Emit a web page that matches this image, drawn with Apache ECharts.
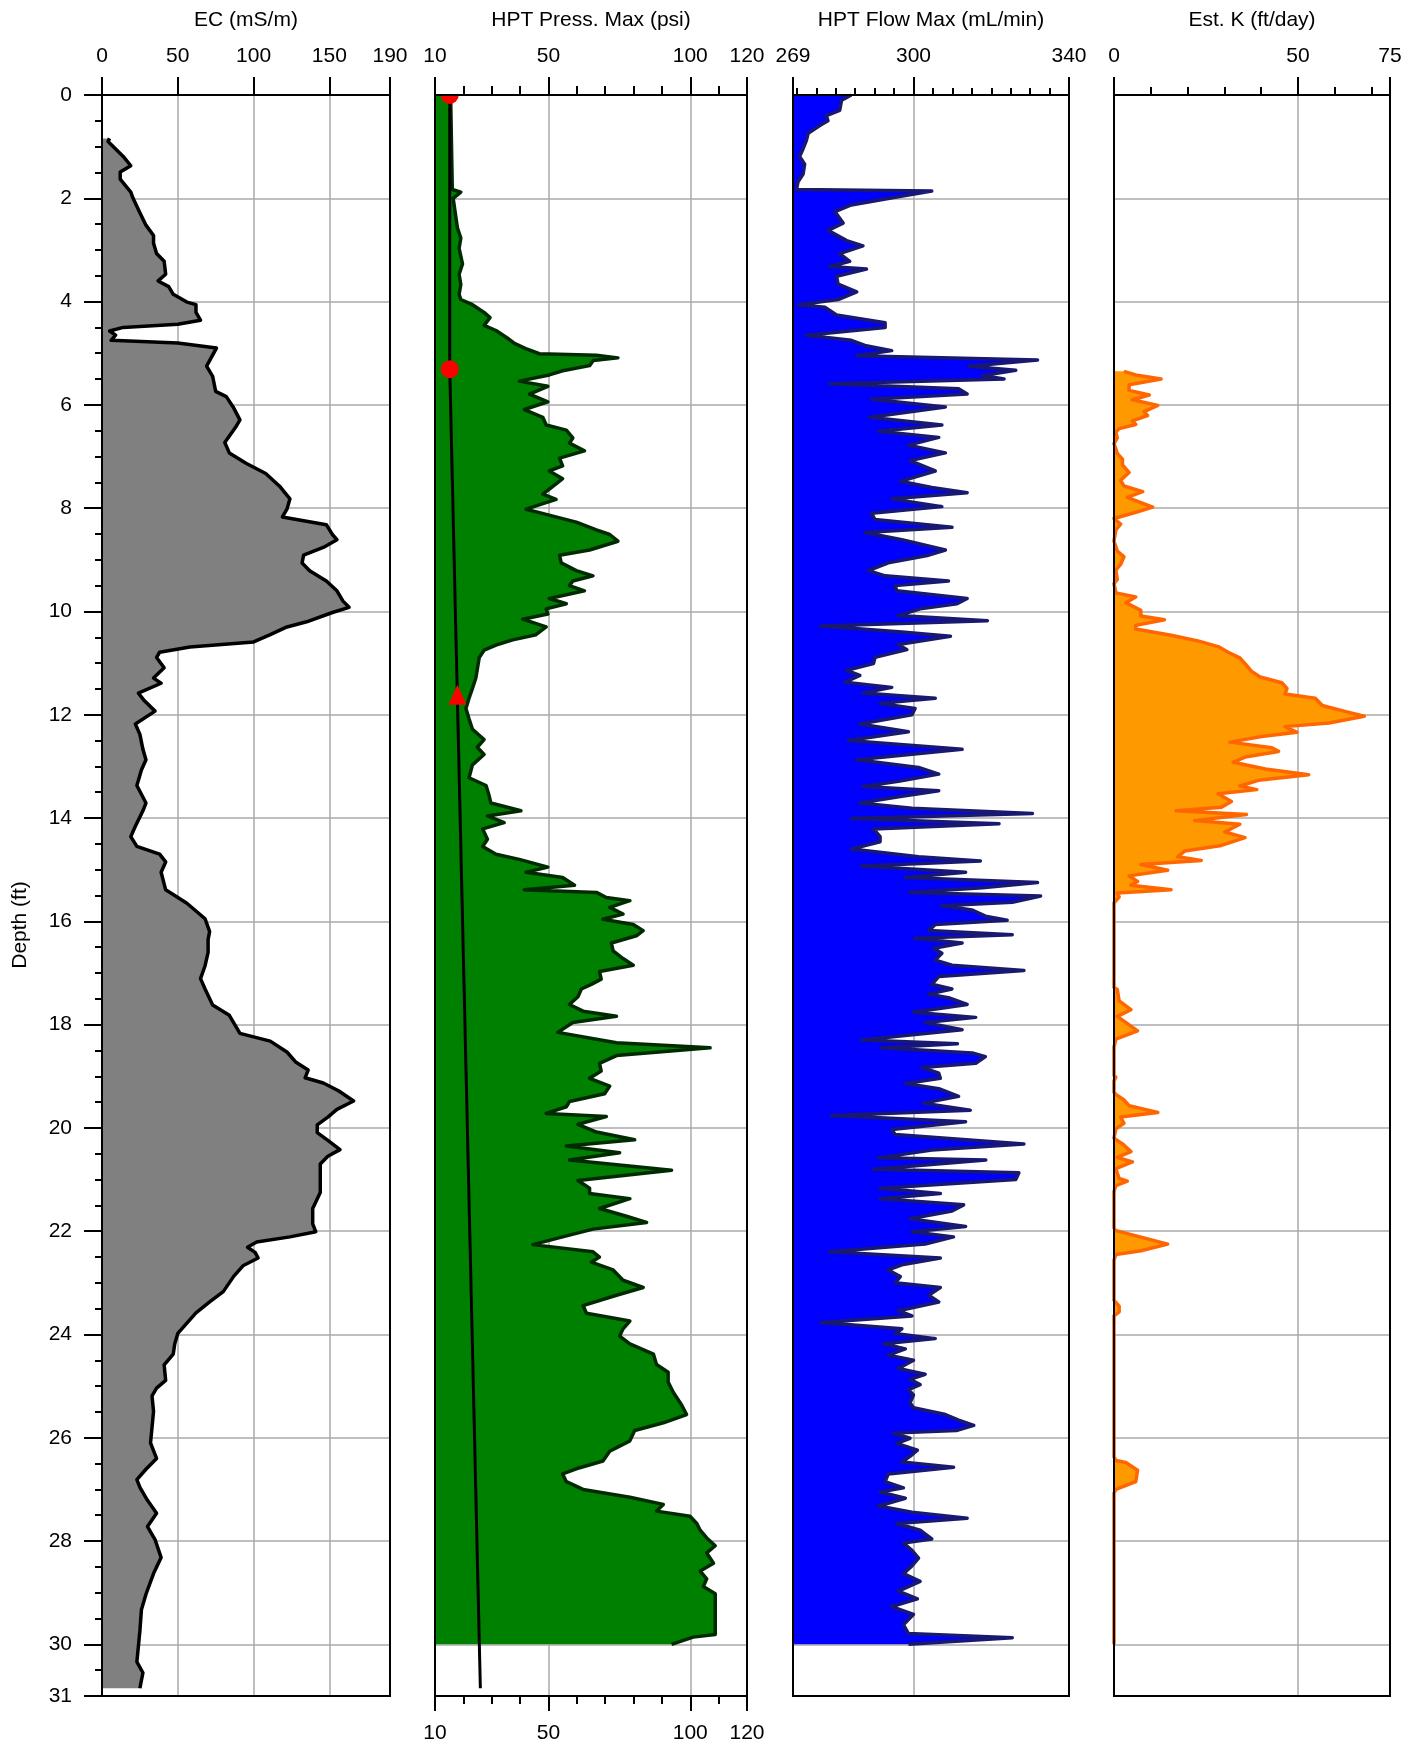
<!DOCTYPE html>
<html lang="en">
<head>
<meta charset="UTF-8">
<title>HPT log</title>
<script src="https://cdn.jsdelivr.net/npm/echarts@6/dist/echarts.min.js"></script>
<style>
  html, body { margin: 0; padding: 0; background: #fff; }
  #chart { width: 1421px; height: 1748px; }
</style>
</head>
<body>
<div id="chart"></div>
<script>
// every profile is a list of [depth (ft), value]
const ecProfile = [
  [0.84, 5], [0.9, 4], [1.19, 14], [1.37, 19], [1.49, 12], [1.63, 12], [1.88, 19], [2.0, 20.5],
  [2.28, 25], [2.52, 29], [2.72, 34], [2.87, 34], [3.07, 36], [3.22, 41], [3.47, 42], [3.6, 37],
  [3.71, 44], [3.86, 47], [4.01, 56], [4.06, 62], [4.21, 62], [4.36, 65], [4.44, 50], [4.5, 14],
  [4.57, 5], [4.65, 9], [4.75, 6], [4.8, 50], [4.9, 75.5], [5.25, 69], [5.45, 73], [5.74, 75],
  [5.84, 82], [6.04, 86.5], [6.29, 91], [6.44, 88], [6.73, 81], [6.93, 84], [7.13, 95], [7.33, 108],
  [7.57, 117], [7.82, 124], [8.02, 122], [8.17, 119], [8.32, 148], [8.51, 152], [8.61, 155], [8.76, 146],
  [8.91, 133], [9.06, 132], [9.21, 137], [9.41, 148], [9.6, 155], [9.8, 159], [9.92, 163], [10.02, 152],
  [10.2, 135], [10.3, 122], [10.45, 111], [10.59, 100], [10.69, 58], [10.79, 38], [10.89, 36], [11.09, 41],
  [11.29, 34], [11.39, 39], [11.58, 24], [11.73, 28], [11.93, 35], [12.18, 22], [12.38, 25], [12.67, 27],
  [12.87, 29], [13.07, 26], [13.37, 23], [13.71, 29], [13.86, 27], [14.16, 22], [14.36, 19], [14.55, 23],
  [14.7, 38], [14.85, 42], [15.05, 39], [15.39, 42], [15.65, 56], [15.95, 68], [16.2, 71], [16.35, 70],
  [16.6, 70], [16.86, 68], [17.11, 65], [17.31, 68], [17.62, 73], [17.82, 84], [18.02, 88], [18.17, 91],
  [18.32, 111], [18.53, 122], [18.73, 128], [18.88, 136], [19.03, 134], [19.13, 146], [19.28, 156], [19.48, 166],
  [19.64, 155], [19.79, 149], [19.94, 142], [20.09, 142], [20.24, 149], [20.42, 157], [20.55, 149], [20.7, 144],
  [20.95, 144], [21.25, 144], [21.56, 139], [21.86, 139], [22.01, 141], [22.11, 124], [22.21, 102], [22.31, 96],
  [22.41, 101], [22.52, 103], [22.67, 93], [22.87, 87], [23.17, 80], [23.37, 71], [23.58, 62], [23.78, 56],
  [23.98, 50], [24.18, 48], [24.38, 47], [24.59, 41], [24.89, 42], [25.04, 36], [25.19, 33], [25.49, 34],
  [25.8, 33], [26.1, 32], [26.4, 36], [26.61, 29], [26.81, 23], [26.96, 25], [27.21, 30], [27.46, 36],
  [27.72, 30], [27.97, 35], [28.32, 39], [28.63, 34], [29.03, 29], [29.33, 26], [29.74, 25], [30.04, 24],
  [30.34, 23], [30.55, 27], [30.7, 26], [30.85, 25]
];

const pressProfile = [
  [0, 15.5], [1.83, 16.1], [1.88, 19.1], [2.0, 16.4], [2.57, 17.9], [2.77, 19.1], [2.97, 18.5], [3.27, 19.7],
  [3.47, 18.5], [3.67, 19.1], [3.86, 18.5], [3.96, 19.1], [4.06, 23.2], [4.21, 27.3], [4.31, 29.4], [4.46, 27.3],
  [4.56, 31.5], [4.71, 35.6], [4.81, 38], [4.91, 42], [5.01, 46.8], [5.04, 66.9], [5.09, 74.5], [5.14, 65.8],
  [5.24, 64.5], [5.34, 55], [5.42, 50.3], [5.54, 39.7], [5.64, 49.8], [5.79, 43.3], [5.94, 49.8], [6.09, 41.5],
  [6.24, 48], [6.39, 49.2], [6.49, 56.3], [6.64, 58.6], [6.74, 57.4], [6.89, 62.7], [7.03, 53.9], [7.18, 55],
  [7.28, 50.3], [7.43, 55], [7.53, 52.7], [7.73, 48], [7.83, 52.7], [8.02, 42.1], [8.12, 49.2], [8.27, 59.8],
  [8.42, 66.9], [8.51, 71.6], [8.64, 74.5], [8.81, 64.5], [8.91, 53.9], [9.06, 54.5], [9.21, 59.8], [9.31, 65.7],
  [9.41, 58.6], [9.5, 57.4], [9.6, 62.7], [9.75, 50.3], [9.85, 56.3], [9.95, 49.2], [10.05, 49.8], [10.15, 40.9],
  [10.3, 49.2], [10.45, 45.6], [10.55, 37.4], [10.65, 31.5], [10.75, 27.3], [10.89, 25.6], [11.09, 25], [11.29, 24.4],
  [11.49, 23.2], [11.68, 22], [11.88, 20.9], [12.08, 22], [12.28, 23.2], [12.48, 27.3], [12.63, 24.9], [12.77, 27.3],
  [12.97, 23.2], [13.22, 22], [13.37, 28], [13.57, 29.1], [13.71, 29.7], [13.86, 40.3], [13.96, 28.5], [14.09, 34.4],
  [14.21, 26.8], [14.41, 28.5], [14.55, 26.8], [14.7, 31.5], [14.8, 39.7], [14.95, 49.8], [15.05, 42.1], [15.15, 55],
  [15.3, 59.2], [15.39, 41.5], [15.44, 66.9], [15.54, 70.4], [15.6, 78.7], [15.73, 71.6], [15.86, 76.3], [15.96, 69.2],
  [16.06, 79.9], [16.18, 83.4], [16.28, 81], [16.42, 72.2], [16.57, 72.8], [16.72, 76.3], [16.85, 79.9], [16.97, 68],
  [17.12, 68.6], [17.22, 65.1], [17.31, 61.6], [17.46, 60.4], [17.61, 57.4], [17.74, 62.2], [17.84, 74], [17.96, 58.6],
  [18.15, 53.3], [18.35, 74], [18.45, 107], [18.6, 74], [18.75, 68], [18.9, 68.6], [19.04, 64.5], [19.19, 71.6],
  [19.34, 69.8], [19.49, 57.4], [19.59, 56.3], [19.72, 49.2], [19.78, 70.4], [19.93, 60.4], [20.08, 66.9], [20.23, 80.4],
  [20.35, 56.3], [20.48, 75.1], [20.62, 57.4], [20.82, 93.4], [21.02, 60.4], [21.17, 64.5], [21.27, 64.5], [21.37, 78.7],
  [21.56, 68], [21.71, 77.5], [21.83, 84.6], [21.96, 65.7], [22.11, 55], [22.26, 44.5], [22.4, 65.7], [22.5, 68],
  [22.6, 65.1], [22.75, 72.8], [22.95, 76.3], [23.09, 83.4], [23.24, 74], [23.44, 62.2], [23.59, 63.4], [23.74, 78.7],
  [23.89, 76.3], [24.03, 75.1], [24.18, 78.7], [24.38, 87], [24.58, 88.1], [24.73, 92.2], [24.92, 92.2], [25.12, 94],
  [25.37, 97], [25.55, 98.7], [25.71, 90.5], [25.86, 80.4], [26.06, 78.7], [26.26, 71.6], [26.45, 69.2], [26.6, 59.8],
  [26.7, 55], [26.85, 56.3], [27.0, 62.2], [27.15, 78.7], [27.29, 90.5], [27.42, 88.1], [27.52, 99.9], [27.66, 102.3],
  [27.79, 103.5], [27.94, 105.8], [28.09, 108.8], [28.23, 105.8], [28.43, 108.2], [28.58, 103.5], [28.73, 105.8], [28.88, 104.6],
  [29.02, 108.8], [29.42, 108.8], [29.81, 108.8], [29.86, 101], [30.0, 93.4]
];

const flowProfile = [
  [0, 284], [0.1, 281.5], [0.3, 281], [0.4, 277.6], [0.5, 278], [0.59, 275.9], [0.74, 272.9], [0.89, 272.4],
  [1.04, 271.6], [1.19, 270.7], [1.34, 272], [1.53, 271.6], [1.68, 270.3], [1.83, 269.9], [1.86, 304.7], [1.98, 295.3],
  [2.13, 284], [2.26, 279.8], [2.48, 281.9], [2.62, 278], [2.82, 282.8], [2.92, 287], [3.07, 281], [3.22, 283.6],
  [3.32, 278.5], [3.37, 287.9], [3.51, 280.2], [3.66, 280.6], [3.81, 285.4], [3.96, 280.6], [4.06, 270.3], [4.11, 277.2],
  [4.26, 280.2], [4.41, 292.7], [4.5, 292.7], [4.65, 272.4], [4.75, 284], [4.85, 287.5], [4.95, 294.4], [5.05, 285.4],
  [5.13, 331.9], [5.25, 314.2], [5.33, 326.3], [5.43, 317.8], [5.5, 323.3], [5.59, 278.5], [5.69, 311.6], [5.79, 313.8],
  [5.89, 289.2], [6.04, 308.2], [6.24, 288.8], [6.39, 307.3], [6.51, 291], [6.63, 306.5], [6.78, 298.7], [6.93, 308.2],
  [7.08, 299.1], [7.28, 305.6], [7.48, 296.6], [7.6, 304.7], [7.7, 313.8], [7.82, 294.4], [7.97, 307.3], [8.1, 289.2],
  [8.22, 290.1], [8.37, 309.9], [8.47, 287.5], [8.61, 297], [8.81, 308.2], [8.91, 303.9], [9.06, 293.5], [9.21, 288.4],
  [9.31, 292.7], [9.41, 309], [9.5, 295.3], [9.6, 295.7], [9.75, 313.8], [9.85, 311.2], [9.95, 301.7], [10.08, 296.1],
  [10.18, 319], [10.28, 276.3], [10.4, 297], [10.48, 309.5], [10.64, 296.1], [10.74, 298.3], [10.89, 290.1], [11.01, 289.7],
  [11.14, 282.8], [11.24, 286.2], [11.37, 282.4], [11.47, 294.4], [11.58, 287], [11.68, 305.6], [11.78, 291.4], [11.88, 300.4],
  [12.0, 299.6], [12.18, 286.2], [12.33, 298.7], [12.5, 283.2], [12.67, 312.5], [12.87, 285.4], [13.02, 301.3], [13.15, 306.5],
  [13.29, 296.1], [13.39, 287], [13.47, 306.5], [13.58, 297], [13.71, 286.2], [13.81, 299.6], [13.91, 330.6], [14.01, 284],
  [14.11, 322], [14.21, 289.7], [14.36, 291.4], [14.46, 291.4], [14.6, 284], [14.75, 301.3], [14.83, 317.2], [14.93, 286.7],
  [15.05, 313.4], [15.15, 297.9], [15.25, 331.9], [15.35, 317.7], [15.44, 299.1], [15.51, 332.7], [15.63, 325.4], [15.7, 307.3],
  [15.78, 315.1], [15.9, 318.5], [15.98, 324.1], [16.06, 305.6], [16.18, 303.9], [16.26, 325.4], [16.33, 300.4], [16.42, 312.5],
  [16.52, 305.2], [16.62, 307.3], [16.75, 305.6], [16.85, 309.9], [16.95, 328.4], [17.07, 306.5], [17.22, 304.7], [17.31, 309.9],
  [17.41, 303.9], [17.48, 309], [17.61, 313.8], [17.76, 300], [17.86, 316], [17.96, 303], [18.1, 312.5], [18.2, 299.1],
  [18.3, 286.7], [18.37, 311.3], [18.45, 291.8], [18.55, 315.1], [18.62, 318.5], [18.75, 316], [18.83, 302.2], [18.94, 306.5],
  [19.04, 306.9], [19.14, 297.9], [19.24, 306.5], [19.39, 311.6], [19.52, 302.6], [19.66, 314.6], [19.76, 278.9], [19.88, 313.4],
  [20.03, 294.4], [20.13, 295.3], [20.31, 328.4], [20.43, 304.7], [20.58, 291], [20.62, 318.6], [20.8, 289.7], [20.87, 327.1],
  [21.0, 326.3], [21.17, 291.4], [21.27, 306.9], [21.37, 291.4], [21.49, 312.9], [21.61, 309.9], [21.76, 299.1], [21.91, 313.4],
  [22.01, 299.6], [22.11, 310.3], [22.25, 303], [22.4, 278.5], [22.52, 306.9], [22.65, 297], [22.75, 293.5], [22.88, 296.6],
  [23.0, 295.3], [23.09, 306.9], [23.24, 303.9], [23.37, 306.5], [23.54, 296.1], [23.64, 299.6], [23.77, 276.3], [23.89, 297],
  [23.98, 295.3], [24.08, 305.6], [24.18, 292.3], [24.28, 297.9], [24.4, 293.5], [24.5, 300], [24.66, 296.1], [24.77, 303],
  [24.87, 299.1], [24.97, 301.7], [25.07, 298.7], [25.17, 300], [25.32, 299.1], [25.42, 300], [25.55, 308.2], [25.66, 311.6],
  [25.76, 315.5], [25.86, 311], [25.91, 294.8], [26.01, 299.1], [26.11, 295.7], [26.24, 301], [26.36, 299.1], [26.47, 297],
  [26.57, 310.3], [26.7, 293.5], [26.85, 292.7], [26.97, 297.4], [27.05, 291.4], [27.17, 297.9], [27.32, 291], [27.44, 299.6],
  [27.56, 313.8], [27.66, 295.7], [27.79, 301.7], [27.96, 304.7], [28.04, 297.4], [28.18, 299.6], [28.33, 301.3], [28.48, 299.6],
  [28.63, 297.4], [28.78, 301.7], [28.97, 296.1], [29.12, 301], [29.27, 294.4], [29.42, 300], [29.62, 297.4], [29.79, 298.7],
  [29.87, 325.4], [30.0, 298.7]
];

const kProfile = [
  [5.35, 2.7], [5.42, 5.9], [5.5, 12.8], [5.61, 4.1], [5.72, 4.1], [5.81, 9.6], [5.9, 5], [6.01, 11.9],
  [6.13, 8.2], [6.21, 9.1], [6.31, 5], [6.38, 5.9], [6.46, 1.4], [6.53, 0.5], [6.64, 0.9], [6.75, 0],
  [6.94, 0.9], [7.05, 2.3], [7.16, 2.3], [7.31, 4.1], [7.46, 1.8], [7.57, 2.7], [7.68, 7.8], [7.79, 3.6],
  [7.98, 10.5], [8.09, 5.5], [8.2, 0], [8.31, 1.8], [8.42, 0.5], [8.64, 0], [8.83, 0.9], [8.94, 2.7],
  [9.09, 1.8], [9.2, 0.5], [9.38, 0.9], [9.46, 0], [9.64, 0.5], [9.72, 5.9], [9.83, 3.2], [9.98, 7.3],
  [10.09, 7.3], [10.16, 13.7], [10.27, 5.9], [10.34, 5.9], [10.46, 15.5], [10.57, 22.8], [10.68, 28.3], [10.79, 31],
  [10.9, 34.2], [11.01, 35.6], [11.16, 37.4], [11.27, 39.7], [11.38, 45.6], [11.49, 47], [11.6, 46.5], [11.68, 54.7],
  [11.82, 56.6], [11.94, 63], [12.03, 68], [12.16, 58.4], [12.23, 46.5], [12.34, 49.7], [12.42, 40.1], [12.53, 31.5],
  [12.64, 42.9], [12.71, 44.7], [12.82, 35.6], [12.92, 32.4], [13.05, 41.1], [13.16, 52.9], [13.27, 39.2], [13.38, 34.2],
  [13.45, 38.8], [13.53, 28.3], [13.68, 31.9], [13.79, 29.2], [13.86, 16.9], [13.93, 36], [14.05, 21.9], [14.12, 34.2],
  [14.27, 30.1], [14.38, 35.6], [14.53, 29.2], [14.64, 19.2], [14.75, 17.3], [14.82, 23.7], [14.9, 7.3], [15.01, 14.6],
  [15.12, 4.1], [15.23, 6.4], [15.3, 4.6], [15.39, 15.5], [15.45, 0.9], [15.53, 1.4], [15.64, 0], [17.28, 0],
  [17.32, 0.9], [17.54, 1.4], [17.71, 4.6], [17.84, 0.9], [18.12, 6.4], [18.28, 0.5], [18.43, 0], [18.98, 0],
  [19.02, 0.5], [19.09, 0], [19.31, 0], [19.35, 0.5], [19.46, 2.7], [19.57, 4.1], [19.7, 11.9], [19.79, 1.8],
  [19.91, 2.7], [20.02, 0.5], [20.2, 0], [20.31, 2.3], [20.46, 4.6], [20.57, 0.9], [20.66, 5], [20.79, 0.5],
  [20.98, 1.4], [21.03, 3.6], [21.12, 0.5], [21.23, 0], [21.94, 0], [21.99, 0.5], [22.08, 5.5], [22.25, 14.6],
  [22.38, 7.3], [22.45, 0.5], [22.56, 0], [23.34, 0], [23.45, 1.4], [23.56, 1.4], [23.64, 0], [26.37, 0],
  [26.44, 0.5], [26.48, 3.2], [26.63, 6.4], [26.85, 5.9], [27.0, 0.5], [27.07, 0], [30.0, 0]
];

// hydrostatic reference on the pressure track and its markers
const pressRef = [[0, 15.2], [5.31, 15.2], [30.85, 26]];
const markerDepths = [0, 5.31, 11.63];
const markerValues = [15.2, 15.2, 17.9];
const markerKinds = ['circle', 'circle', 'triangle'];

// axis ticks
const ecTicks = [0, 50, 100, 150, 190];
const pressTicks = [10, 50, 100, 120];
const pressMinor = [20, 30, 40, 60, 70, 80, 90, 110];
const flowTicks = [269, 300, 340];
const flowMinor = [270, 275, 280, 285, 290, 295, 305, 310, 315, 320, 325, 330, 335];
const kTicks = [0, 50, 75];
const kMinor = [10, 20, 30, 40, 60, 70];
const depthTicks = [0, 2, 4, 6, 8, 10, 12, 14, 16, 18, 20, 22, 24, 26, 28, 30, 31];
const depthMinor = [];
for (let d = 0; d <= 31; d += 0.5) depthMinor.push(d);

const FONT = 'Liberation Sans, Arial, sans-serif';
const tickStyle = { color: '#000', width: 2 };
const gridLine = { color: '#aaaaaa', width: 1.5 };
const textStyle = { fontSize: 21, fontFamily: FONT, color: '#000' };

function xAxis(gridIndex, min, max, o) {
  return {
    type: 'value', gridIndex: gridIndex, min: min, max: max,
    position: o.position || 'top',
    name: o.name || '',
    nameLocation: 'middle', nameGap: 64,
    nameTextStyle: textStyle,
    axisLine: { show: false, onZero: false },
    axisTick: { show: true, customValues: o.ticks, length: o.len, lineStyle: tickStyle },
    axisLabel: Object.assign({ show: !!o.labels, customValues: o.ticks, margin: o.margin || 28 }, textStyle),
    splitLine: { show: !!o.split, lineStyle: gridLine },
    axisPointer: { show: false }
  };
}

function yAxis(gridIndex, o) {
  return {
    type: 'value', gridIndex: gridIndex, min: 0, max: 31, interval: 2, inverse: true,
    position: 'left',
    axisLine: { show: false, onZero: false },
    axisTick: { show: !!o.len, customValues: o.ticks, length: o.len || 0, lineStyle: tickStyle },
    axisLabel: Object.assign({ show: !!o.labels, customValues: o.ticks, margin: 30 }, textStyle),
    splitLine: { show: !!o.split, lineStyle: gridLine },
    axisPointer: { show: false }
  };
}

function toXY(profile) {
  return profile.map(p => [p[1], p[0]]);
}

function fillSeries(xi, yi, profile, base, color) {
  const pts = toXY(profile);
  return {
    type: 'custom', xAxisIndex: xi, yAxisIndex: yi, clip: true, z: 2, silent: true,
    data: pts,
    renderItem: function (params, api) {
      if (params.dataIndex !== 0) return null;
      const poly = [api.coord([base, pts[0][1]])];
      pts.forEach(p => poly.push(api.coord(p)));
      poly.push(api.coord([base, pts[pts.length - 1][1]]));
      return { type: 'polygon', shape: { points: poly }, style: { fill: color } };
    }
  };
}

function lineSeries(xi, yi, profile, color, width, z) {
  return {
    type: 'line', xAxisIndex: xi, yAxisIndex: yi, data: toXY(profile),
    showSymbol: false, symbol: 'none', silent: true, z: z || 3,
    lineStyle: { color: color, width: width, join: 'round' }
  };
}

const gridBox = { top: 95, height: 1601, show: true, borderColor: '#000', borderWidth: 2, z: 10, outerBoundsMode: 'none' };

const option = {
  animation: false,
  backgroundColor: '#fff',
  grid: [
    Object.assign({ left: 102, width: 288 }, gridBox),
    Object.assign({ left: 435, width: 312 }, gridBox),
    Object.assign({ left: 793, width: 276 }, gridBox),
    Object.assign({ left: 1114, width: 276 }, gridBox)
  ],
  xAxis: [
    xAxis(0, 0, 190, { name: 'EC (mS/m)', ticks: ecTicks, len: 18, labels: true, split: true }),
    xAxis(1, 10, 120, { name: 'HPT Press. Max (psi)', ticks: pressTicks, len: 18, labels: true, split: true }),
    xAxis(1, 10, 120, { ticks: pressMinor, len: 9 }),
    xAxis(1, 10, 120, { position: 'bottom', ticks: pressTicks, len: 15, labels: true, margin: 27 }),
    xAxis(1, 10, 120, { position: 'bottom', ticks: pressMinor, len: 8 }),
    xAxis(2, 269, 340, { name: 'HPT Flow Max (mL/min)', ticks: flowTicks, len: 18, labels: true, split: true }),
    xAxis(2, 269, 340, { ticks: flowMinor, len: 7 }),
    xAxis(3, 0, 75, { name: 'Est. K (ft/day)', ticks: kTicks, len: 18, labels: true, split: true }),
    xAxis(3, 0, 75, { ticks: kMinor, len: 8 })
  ],
  yAxis: [
    yAxis(0, { ticks: depthTicks, len: 18, labels: true, split: true }),
    yAxis(0, { ticks: depthMinor, len: 7 }),
    yAxis(1, { ticks: depthTicks, split: true }),
    yAxis(2, { ticks: depthTicks, split: true }),
    yAxis(3, { ticks: depthTicks, split: true })
  ],
  graphic: [{
    type: 'text', x: 20, y: 925, rotation: Math.PI / 2,
    style: {
      text: 'Depth (ft)', font: '21px Liberation Sans, Arial, sans-serif', fill: '#000',
      align: 'center', verticalAlign: 'middle', textAlign: 'center', textVerticalAlign: 'middle'
    }
  }],
  series: [
    fillSeries(0, 0, ecProfile, 0, '#808080'),
    lineSeries(0, 0, ecProfile, '#000000', 3.5),

    fillSeries(1, 2, pressProfile, 10, '#008000'),
    lineSeries(1, 2, pressProfile, '#002a00', 3.5),
    {
      type: 'line', xAxisIndex: 1, yAxisIndex: 2, data: toXY(pressRef),
      showSymbol: false, symbol: 'none', silent: true, z: 4,
      lineStyle: { color: '#000', width: 3 }
    },
    {
      type: 'custom', xAxisIndex: 1, yAxisIndex: 2, clip: true, z: 5, silent: true,
      data: markerValues.map((v, i) => [v, markerDepths[i]]),
      renderItem: function (params, api) {
        const c = api.coord([api.value(0), api.value(1)]);
        if (markerKinds[params.dataIndex] === 'triangle') {
          return {
            type: 'polygon',
            shape: { points: [[c[0], c[1] - 11], [c[0] - 9, c[1] + 9], [c[0] + 9, c[1] + 9]] },
            style: { fill: '#ff0000' }
          };
        }
        return { type: 'circle', shape: { cx: c[0], cy: c[1], r: 9 }, style: { fill: '#ff0000' } };
      }
    },

    fillSeries(5, 3, flowProfile, 269, '#0000ff'),
    lineSeries(5, 3, flowProfile, '#191970', 3.5),

    fillSeries(7, 4, kProfile, 0, '#ff9900'),
    lineSeries(7, 4, kProfile, '#ff6600', 3.5)
  ]
};

const myChart = echarts.init(document.getElementById('chart'), null, { renderer: 'canvas' });
myChart.setOption(option);
</script>
</body>
</html>
